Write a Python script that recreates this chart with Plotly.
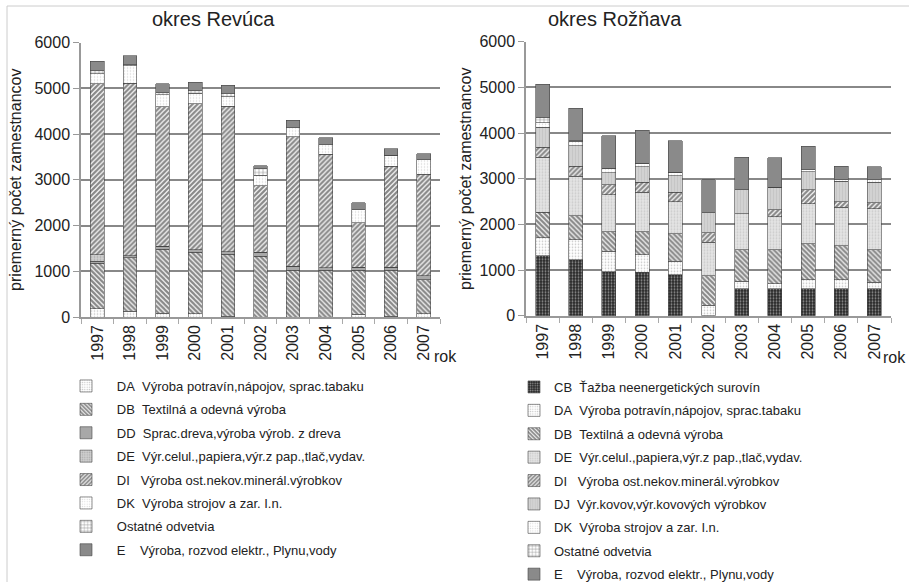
import plotly.graph_objects as go

years = [str(y) for y in range(1997, 2008)]

# ---- okres Revúca ----
rev_labels = [
    "\u00a0\u00a0\u00a0DA\u00a0\u00a0Výroba potravín,nápojov, sprac.tabaku",
    "\u00a0\u00a0\u00a0DB\u00a0\u00a0Textilná a odevná výroba",
    "\u00a0\u00a0\u00a0DD\u00a0\u00a0Sprac.dreva,výroba výrob. z dreva",
    "\u00a0\u00a0\u00a0DE\u00a0\u00a0Výr.celul.,papiera,výr.z pap.,tlač,vydav.",
    "\u00a0\u00a0\u00a0DI\u00a0\u00a0\u00a0Výroba ost.nekov.minerál.výrobkov",
    "\u00a0\u00a0\u00a0DK\u00a0\u00a0Výroba strojov a zar. I.n.",
    "\u00a0\u00a0\u00a0Ostatné odvetvia",
    "\u00a0\u00a0\u00a0E\u00a0\u00a0\u00a0\u00a0Výroba, rozvod elektr., Plynu,vody",
]
rev_DA = [180, 130, 80, 70, 15, 0, 0, 0, 58, 20, 72]
rev_DB = [990, 1160, 1405, 1340, 1355, 1326, 1022, 1022, 964, 1000, 747]
rev_DD = [50, 50, 60, 58, 58, 94, 87, 58, 65, 65, 87]
rev_DE = [145, 0, 0, 0, 0, 0, 0, 0, 0, 0, 0]
rev_DI = [3730, 3770, 3056, 3190, 3180, 1450, 2826, 2478, 978, 2210, 2217]
rev_DK = [220, 385, 254, 231, 210, 231, 203, 210, 276, 239, 319]
rev_OST = [70, 20, 45, 58, 58, 145, 0, 0, 0, 0, 0]
rev_E = [200, 200, 195, 180, 195, 65, 159, 152, 159, 145, 130]

# ---- okres Rožňava ----
roz_labels = [
    "CB\u00a0\u00a0Ťažba neenergetických surovín",
    "DA\u00a0\u00a0Výroba potravín,nápojov, sprac.tabaku",
    "DB\u00a0\u00a0Textilná a odevná výroba",
    "DE\u00a0\u00a0Výr.celul.,papiera,výr.z pap.,tlač,vydav.",
    "DI\u00a0\u00a0\u00a0Výroba ost.nekov.minerál.výrobkov",
    "DJ\u00a0\u00a0Výr.kovov,výr.kovových výrobkov",
    "DK\u00a0\u00a0Výroba strojov a zar. I.n.",
    "Ostatné odvetvia",
    "E\u00a0\u00a0\u00a0\u00a0Výroba, rozvod elektr., Plynu,vody",
]
roz_CB = [1319, 1224, 969, 955, 897, 0, 590, 590, 590, 590, 590]
roz_DA = [386, 445, 445, 379, 298, 226, 168, 110, 197, 197, 146]
roz_DB = [562, 525, 430, 510, 598, 656, 692, 750, 787, 751, 714]
roz_DE = [1202, 860, 802, 860, 700, 729, 780, 722, 875, 838, 890]
roz_DI = [219, 219, 226, 219, 211, 204, 0, 146, 306, 124, 131]
roz_DJ = [437, 451, 255, 342, 365, 444, 525, 495, 401, 445, 452]
roz_DK = [102, 95, 87, 58, 72, 0, 0, 0, 36, 36, 51]
roz_OST = [117, 15, 15, 15, 0, 0, 0, 0, 0, 0, 0]
roz_E = [729, 707, 707, 728, 693, 715, 714, 642, 518, 292, 291]

y_ticks = [0, 1000, 2000, 3000, 4000, 5000, 6000]

FONT = "Liberation Sans, Arial, sans-serif"
W, H = 909, 582

styles = {
    "CB": dict(color="#222", pattern=dict(shape=".", fgcolor="#ffffff", bgcolor="#262626", size=3, solidity=0.35)),
    "DA": dict(color="white", pattern=dict(shape=".", fgcolor="#888", bgcolor="white", size=3, solidity=0.25)),
    "DB": dict(color="white", pattern=dict(shape="\\", fgcolor="#111", bgcolor="white", size=3.5, solidity=0.65)),
    "DD": dict(color="#a8a8a8", pattern=dict(shape="")),
    "DE": dict(color="#d0d0d0", pattern=dict(shape=".", fgcolor="#888", bgcolor="#d0d0d0", size=3, solidity=0.3)),
    "DE2": dict(color="#e2e2e2", pattern=dict(shape=".", fgcolor="#b0b0b0", bgcolor="#e4e4e4", size=3, solidity=0.3)),
    "DI": dict(color="white", pattern=dict(shape="/", fgcolor="#111", bgcolor="white", size=3.5, solidity=0.65)),
    "DJ": dict(color="#cccccc", pattern=dict(shape="|", fgcolor="#b8b8b8", bgcolor="#d4d4d4", size=3, solidity=0.4)),
    "DK": dict(color="white", pattern=dict(shape=".", fgcolor="#b0b0b0", bgcolor="white", size=3, solidity=0.2)),
    "OST": dict(color="white", pattern=dict(shape="+", fgcolor="#333", bgcolor="white", size=4, solidity=0.3)),
    "E": dict(color="#8a8a8a", pattern=dict(shape="")),
}

fig = go.Figure()

rev_series = [("DA", rev_DA), ("DB", rev_DB), ("DD", rev_DD), ("DE", rev_DE),
              ("DI", rev_DI), ("DK", rev_DK), ("OST", rev_OST), ("E", rev_E)]
for (code, vals), label in zip(rev_series, rev_labels):
    st = styles[code]
    fig.add_trace(go.Bar(
        x=years, y=vals, name=label, xaxis="x", yaxis="y",
        legend="legend", legendgroup="rev_" + code,
        marker=dict(color=st["color"], pattern=st["pattern"],
                    line=dict(color="#444", width=0.6)),
        hoverinfo="x+y+name",
    ))

roz_series = [("CB", roz_CB), ("DA", roz_DA), ("DB", roz_DB), ("DE2", roz_DE),
              ("DI", roz_DI), ("DJ", roz_DJ), ("DK", roz_DK), ("OST", roz_OST), ("E", roz_E)]
for (code, vals), label in zip(roz_series, roz_labels):
    st = styles[code]
    fig.add_trace(go.Bar(
        x=years, y=vals, name=label, xaxis="x2", yaxis="y2",
        legend="legend2", legendgroup="roz_" + code,
        marker=dict(color=st["color"], pattern=st["pattern"],
                    line=dict(color="#444", width=0.6)),
        hoverinfo="x+y+name",
    ))

axis_common_x = dict(
    type="category", tickangle=-90, tickfont=dict(family=FONT, size=16, color="#222"),
    showline=True, linecolor="#999", linewidth=1.5, ticks="outside", tickson="boundaries",
    ticklen=5, tickcolor="#aaa", showgrid=False, fixedrange=True, automargin=False,
)


def y_axis(standoff):
    return dict(
        range=[0, 6000], tickvals=y_ticks, tickfont=dict(family=FONT, size=16, color="#222"),
        showline=True, linecolor="#999", linewidth=1.5, ticks="outside", ticklen=6, tickcolor="#999",
        showgrid=True, gridcolor="#888", gridwidth=1.6, zeroline=False, fixedrange=True, automargin=False,
        title=dict(text="priemerný počet zamestnancov",
                   font=dict(family=FONT, size=16, color="#222"), standoff=standoff),
    )


fig.update_layout(
    width=W, height=H,
    margin=dict(l=0, r=0, t=0, b=0, autoexpand=False),
    paper_bgcolor="white", plot_bgcolor="white",
    barmode="stack", bargap=0.58,
    font=dict(family=FONT, color="#222"),
    xaxis=dict(domain=[81 / W, 440 / W], anchor="y", **axis_common_x),
    yaxis=dict(domain=[1 - 317 / H, 1 - 42.5 / H], anchor="x", **y_axis(9)),
    xaxis2=dict(domain=[526 / W, 891 / W], anchor="y2", **axis_common_x),
    yaxis2=dict(domain=[1 - 315.8 / H, 1 - 41.7 / H], anchor="x2", **y_axis(4)),
    legend=dict(
        x=66 / W, y=1 - 371 / H, xanchor="left", yanchor="top",
        traceorder="grouped", tracegroupgap=3.5, bgcolor="rgba(0,0,0,0)",
        font=dict(family=FONT, size=13, color="#222"),
    ),
    legend2=dict(
        x=514 / W, y=1 - 372 / H, xanchor="left", yanchor="top",
        traceorder="grouped", tracegroupgap=3.5, bgcolor="rgba(0,0,0,0)",
        font=dict(family=FONT, size=13, color="#222"),
    ),
    annotations=[
        dict(text="okres Revúca", x=213 / W, y=1 - 19 / H, xref="paper", yref="paper",
             showarrow=False, font=dict(family=FONT, size=20, color="#222"), xanchor="center", yanchor="middle"),
        dict(text="okres Rožňava", x=615 / W, y=1 - 19 / H, xref="paper", yref="paper",
             showarrow=False, font=dict(family=FONT, size=20, color="#222"), xanchor="center", yanchor="middle"),
        dict(text="rok", x=445 / W, y=1 - 356 / H, xref="paper", yref="paper",
             showarrow=False, font=dict(family=FONT, size=16, color="#222"), xanchor="center", yanchor="middle"),
        dict(text="rok", x=894 / W, y=1 - 357 / H, xref="paper", yref="paper",
             showarrow=False, font=dict(family=FONT, size=16, color="#222"), xanchor="center", yanchor="middle"),
    ],
    shapes=[
        dict(type="line", xref="paper", yref="paper", x0=7 / W, x1=1, y0=1 - 6 / H, y1=1 - 6 / H,
             line=dict(color="#cccccc", width=1)),
        dict(type="line", xref="paper", yref="paper", x0=7 / W, x1=7 / W, y0=0, y1=1 - 6 / H,
             line=dict(color="#cccccc", width=1)),
    ],
    showlegend=True,
)

fig.write_html(
    "out.html",
    config={"displayModeBar": False},
    post_script="document.body.style.margin='0';document.body.style.padding='0';"
                "document.body.style.overflow='hidden';",
)
